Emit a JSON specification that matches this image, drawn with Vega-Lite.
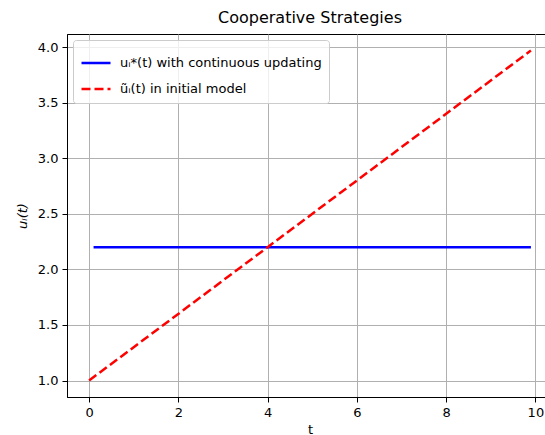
{
  "$schema": "https://vega.github.io/schema/vega-lite/v6.json",
  "autosize": "none",
  "width": 486,
  "height": 363,
  "padding": {"left": 67, "top": 34, "right": 0, "bottom": 38},
  "background": "white",
  "title": {"text": "Cooperative Strategies", "fontSize": 16, "font": "DejaVu Sans", "fontWeight": "normal", "color": "black", "offset": 8, "anchor": "middle"},
  "config": {
    "font": "DejaVu Sans",
    "view": {"stroke": "black", "strokeWidth": 1},
    "axis": {
      "labelFont": "DejaVu Sans", "labelFontSize": 13, "labelColor": "black",
      "titleFont": "DejaVu Sans", "titleFontSize": 13, "titleFontWeight": "normal", "titleColor": "black",
      "domainColor": "black", "tickColor": "black", "tickSize": 5, "tickWidth": 1,
      "gridColor": "#b0b0b0", "gridWidth": 1, "gridOpacity": 1, "labelPadding": 4
    },
    "legend": {
      "orient": "top-left", "offset": 6,
      "strokeColor": "#cccccc", "fillColor": "rgba(255,255,255,0.8)", "cornerRadius": 3,
      "padding": 7, "labelFont": "DejaVu Sans", "labelFontSize": 13, "labelColor": "black", "labelLimit": 400,
      "symbolType": "stroke", "symbolSize": 841, "symbolStrokeWidth": 2.5, "labelOffset": 8, "rowPadding": 3
    }
  },
  "data": {"values": [
    {"t": 0.1, "u": 2.2, "series": "uᵢ*(t) with continuous updating"},
    {"t": 9.9, "u": 2.2, "series": "uᵢ*(t) with continuous updating"},
    {"t": 0.0, "u": 1.0, "series": "ũᵢ(t) in initial model"},
    {"t": 4.0, "u": 2.2, "series": "ũᵢ(t) in initial model"},
    {"t": 9.9, "u": 3.97, "series": "ũᵢ(t) in initial model"}
  ]},
  "mark": {"type": "line", "strokeWidth": 2.5},
  "encoding": {
    "x": {"field": "t", "type": "quantitative", "title": "t",
      "scale": {"domain": [-0.495, 10.395], "nice": false, "zero": false},
      "axis": {"values": [0, 2, 4, 6, 8, 10], "format": "d", "titlePadding": 4}},
    "y": {"field": "u", "type": "quantitative", "title": "uᵢ(t)",
      "scale": {"domain": [0.8515, 4.1185], "nice": false, "zero": false},
      "axis": {"values": [1.0, 1.5, 2.0, 2.5, 3.0, 3.5, 4.0], "format": ".1f", "titleFontStyle": "italic", "titlePadding": 8}},
    "color": {"field": "series", "type": "nominal", "title": null,
      "scale": {"domain": ["uᵢ*(t) with continuous updating", "ũᵢ(t) in initial model"], "range": ["#0000ff", "#ff0000"]}},
    "strokeDash": {"field": "series", "type": "nominal", "title": null,
      "scale": {"domain": ["uᵢ*(t) with continuous updating", "ũᵢ(t) in initial model"], "range": [[1, 0], [9, 4]]}}
  }
}
